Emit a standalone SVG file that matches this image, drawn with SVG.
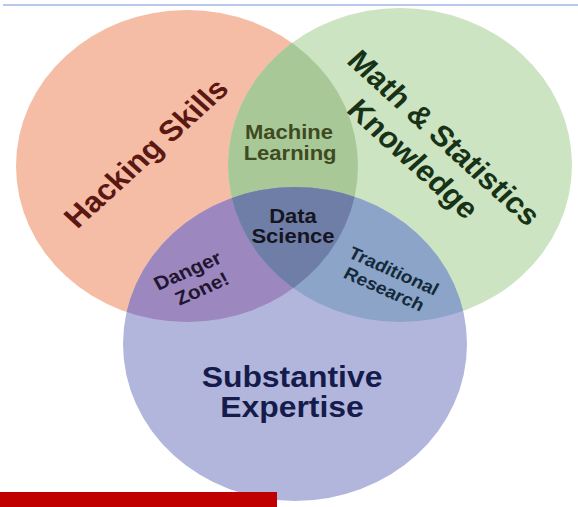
<svg xmlns="http://www.w3.org/2000/svg" width="578" height="507" viewBox="0 0 578 507">
  <style>
    text { font-family: "Liberation Sans", Arial, Helvetica, sans-serif; font-weight: bold; text-anchor: middle; }
    .big { font-size: 29px; }
    .mid { font-size: 20px; }
    .small { font-size: 17.5px; }
    .warn { font-size: 19px; }
  </style>
  <defs>
    <ellipse id="e-hack" cx="187" cy="166" rx="171" ry="156"/>
    <ellipse id="e-math" cx="400" cy="165" rx="172" ry="157"/>
    <ellipse id="e-sub" cx="295" cy="344" rx="172" ry="157"/>
    <clipPath id="clip-hack"><ellipse cx="187" cy="166" rx="171" ry="156"/></clipPath>
    <clipPath id="clip-math"><ellipse cx="400" cy="165" rx="172" ry="157"/></clipPath>
    <linearGradient id="frame-edge" x1="0" y1="0" x2="0" y2="1">
      <stop offset="0" stop-color="#b9c9ec"/>
      <stop offset="0.45" stop-color="#c6c6dc"/>
      <stop offset="0.7" stop-color="#e0a0a8"/>
      <stop offset="1" stop-color="#d86a72"/>
    </linearGradient>
  </defs>

  <!-- page background and frame -->
  <rect x="0" y="0" width="578" height="507" fill="#ffffff"/>
  <line x1="3" y1="5" x2="578" y2="5" stroke="#b9c9ec" stroke-width="2"/>
  <line x1="3" y1="5" x2="3" y2="507" stroke="url(#frame-edge)" stroke-width="2"/>

  <!-- the three sets -->
  <g id="hacking-skills">
    <use href="#e-hack" fill="#f5bda5"/>
  </g>
  <g id="math-statistics">
    <use href="#e-math" fill="#cce4c1"/>
  </g>
  <g id="substantive-expertise">
    <use href="#e-sub" fill="#b2b6dc"/>
  </g>

  <!-- pairwise overlaps -->
  <g id="machine-learning">
    <use href="#e-math" fill="#a8c898" clip-path="url(#clip-hack)"/>
  </g>
  <g id="danger-zone">
    <use href="#e-sub" fill="#9c87bf" clip-path="url(#clip-hack)"/>
  </g>
  <g id="traditional-research">
    <use href="#e-sub" fill="#8ca4c8" clip-path="url(#clip-math)"/>
  </g>
  <!-- centre: all three -->
  <g id="data-science" clip-path="url(#clip-hack)">
    <use href="#e-sub" fill="#6f7ea6" clip-path="url(#clip-math)"/>
  </g>

  <!-- labels -->
  <g id="labels">
    <text class="big" fill="#5b1712" transform="translate(146,153) scale(1.1,1) rotate(-45)" y="10">Hacking Skills</text>
    <g fill="#173217" transform="translate(445,137) scale(1.1,1) rotate(45)">
      <text class="big" y="11">Math &amp; Statistics</text>
      <text class="big" x="-5" y="46">Knowledge</text>
    </g>
    <g fill="#151c4c" transform="translate(292,0) scale(1.1,1)">
      <text class="big" y="387">Substantive</text>
      <text class="big" x="0" y="417">Expertise</text>
    </g>
    <g fill="#3e4a1f" transform="translate(289,0) scale(1.1,1)">
      <text class="mid" y="139">Machine</text>
      <text class="mid" x="1" y="160">Learning</text>
    </g>
    <g fill="#15151f" transform="translate(293,0) scale(1.1,1)">
      <text class="mid" y="223">Data</text>
      <text class="mid" y="243">Science</text>
    </g>
    <g fill="#221530" transform="translate(193,281) scale(1.1,1) rotate(-26)">
      <text class="warn" y="-5">Danger</text>
      <text class="warn" x="4" y="17">Zone!</text>
    </g>
    <g fill="#132a3a" transform="translate(389,280) scale(1.1,1) rotate(26)">
      <text class="small" y="-4">Traditional</text>
      <text class="small" y="16">Research</text>
    </g>
  </g>

  <!-- red bar along the bottom edge -->
  <rect x="0" y="492" width="277" height="15" fill="#c00000"/>
</svg>
